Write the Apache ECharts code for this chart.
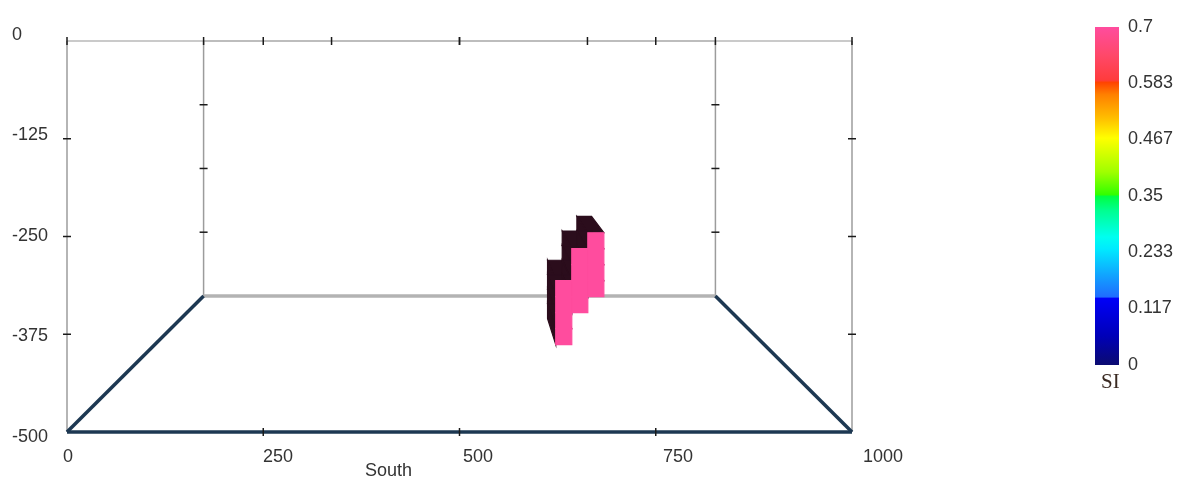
<!DOCTYPE html>
<html>
<head>
<meta charset="utf-8">
<script src="https://cdn.jsdelivr.net/npm/echarts@6/dist/echarts.min.js"></script>
<style>
  html, body { margin: 0; padding: 0; background: #ffffff; }
  #chart { width: 1183px; height: 477px; }
</style>
</head>
<body>
<div id="chart"></div>
<script>
// ---- axis ticks ----
const southTicks = [0, 250, 500, 750, 1000];
const elevationTicks = [0, -125, -250, -375, -500];
const siTicks = [0, 0.117, 0.233, 0.35, 0.467, 0.583, 0.7];

// ---- model extents (m) ----
const southRange = [0, 1000];
const depthRange = [0, 1000];
const elevationRange = [-500, 0];

// ---- inverted body: 25 m voxels (west edge along South, top elevation, SI) ----
const voxelSouth = [650, 650, 650, 650, 675, 675, 675, 675, 700, 700, 700, 700];
const voxelTop   = [-375, -400, -425, -450, -325, -350, -375, -400, -300, -325, -350, -375];
const voxelSI    = [0.7, 0.7, 0.7, 0.7, 0.7, 0.7, 0.7, 0.7, 0.7, 0.7, 0.7, 0.7];
const voxelSize = 25;
const bodyDepth = [525, 725];

// ---- SI colour scale ----
const scaleValues = [0.000, 0.060, 0.138, 0.141, 0.180, 0.240, 0.265, 0.320, 0.350, 0.352, 0.400, 0.470, 0.510, 0.560, 0.585, 0.590, 0.640, 0.700];
const scaleColors = ['#0b0b70', '#0000b8', '#0000f8', '#1f6cff', '#139cff', '#00eaff', '#00fff0', '#00ff90', '#00ff40', '#30ff00', '#a0ff00', '#ffff00', '#ffc000', '#ff8000', '#ff4400', '#ff3c3c', '#ff4868', '#ff4c9e'];

// perspective: eye level with the top face, vanishing toward South = 500
const VANISH_SOUTH = 500;
const DEPTH_SHRINK = 0.348;

function project(api, s, d, z) {
  const k = 1 - DEPTH_SHRINK * d / depthRange[1];
  return api.coord([VANISH_SOUTH + (s - VANISH_SOUTH) * k, z * k]);
}

function hexRgb(h) {
  return [parseInt(h.slice(1, 3), 16), parseInt(h.slice(3, 5), 16), parseInt(h.slice(5, 7), 16)];
}
function colourAt(v) {
  if (v <= scaleValues[0]) return scaleColors[0];
  for (let i = 1; i < scaleValues.length; i++) {
    if (v <= scaleValues[i]) {
      const t = (v - scaleValues[i - 1]) / (scaleValues[i] - scaleValues[i - 1]);
      const a = hexRgb(scaleColors[i - 1]), b = hexRgb(scaleColors[i]);
      return 'rgb(' + a.map((c, j) => Math.round(c + (b[j] - c) * t)).join(',') + ')';
    }
  }
  return scaleColors[scaleColors.length - 1];
}

// ---- box edges built from the model extents ----
const [s0, s1] = southRange, [d0, d1] = depthRange, [zb, zt] = elevationRange;
const floorEdges = [
  [s0, d0, zb, s1, d0, zb],
  [s0, d0, zb, s0, d1, zb],
  [s1, d0, zb, s1, d1, zb]
];
const backFloorEdges = [[s0, d1, zb, s1, d1, zb]];
const verticalEdges = [
  [s0, d0, zt, s0, d0, zb],
  [s1, d0, zt, s1, d0, zb],
  [s0, d1, zt, s0, d1, zb],
  [s1, d1, zt, s1, d1, zb]
];
const topEdges = [
  [s0, d0, zt, s1, d0, zt],
  [s0, d1, zt, s1, d1, zt]
];

// tick marks: [south, depth, elevation, vertical?]
const tickMarks = [];
[[s0, d0], [s1, d0], [s0, d1], [s1, d1]].forEach(([s, d]) => {
  elevationTicks.filter(z => z > zb && z < zt).forEach(z => tickMarks.push([s, d, z, 0]));
});
[d0, d1].forEach(d => southTicks.forEach(s => tickMarks.push([s, d, zt, 1])));
southTicks.filter(s => s > s0 && s < s1).forEach(s => tickMarks.push([s, d0, zb, 1]));

function edgeSeries(name, edges, stroke, width, z) {
  return {
    name: name, type: 'custom', coordinateSystem: 'cartesian2d',
    xAxisIndex: 0, yAxisIndex: 0, silent: true, clip: false, z: z,
    data: edges,
    renderItem: function (params, api) {
      const a = project(api, api.value(0), api.value(1), api.value(2));
      const b = project(api, api.value(3), api.value(4), api.value(5));
      return {
        type: 'line',
        shape: { x1: a[0], y1: a[1], x2: b[0], y2: b[1] },
        style: { stroke: stroke, lineWidth: width, lineCap: 'butt' }
      };
    }
  };
}

const voxelData = voxelSouth.map((s, i) => [s, voxelTop[i], voxelSI[i]]);

function voxelCorners(api) {
  const s = api.value(0), top = api.value(1), bot = top - voxelSize, e = s + voxelSize;
  return {
    fTL: project(api, s, bodyDepth[0], top), fTR: project(api, e, bodyDepth[0], top),
    fBL: project(api, s, bodyDepth[0], bot), fBR: project(api, e, bodyDepth[0], bot),
    bTL: project(api, s, bodyDepth[1], top), bTR: project(api, e, bodyDepth[1], top),
    bBL: project(api, s, bodyDepth[1], bot)
  };
}

const SIDE_COLOUR = '#2b0d1c';

const option = {
  animation: false,
  backgroundColor: '#ffffff',
  textStyle: { fontFamily: 'Liberation Sans, Arial, sans-serif' },
  title: [
    { text: 'South', left: 360, top: 457,
      textStyle: { fontSize: 18, fontWeight: 'normal', color: '#333333', fontFamily: 'Liberation Sans' } },
    { text: 'SI', left: 1096, top: 367,
      textStyle: { fontSize: 21, fontWeight: 'normal', color: '#3a2a22', fontFamily: 'Liberation Serif' } }
  ],
  grid: [
    { left: 67, right: 331, top: 41, bottom: 45 },
    { left: 63, right: 320, top: 35, bottom: 40 },
    { left: 1095, right: 64, top: 27, bottom: 112 }
  ],
  xAxis: [
    { gridIndex: 0, type: 'value', min: southRange[0], max: southRange[1], show: false },
    { gridIndex: 1, type: 'value', min: southRange[0], max: southRange[1],
      axisLine: { show: false }, axisTick: { show: false }, splitLine: { show: false },
      axisLabel: { customValues: southTicks, align: 'left', margin: 11, fontSize: 18, color: '#333333',
        formatter: v => String(v) } },
    { gridIndex: 2, type: 'value', min: 0, max: 1, show: false }
  ],
  yAxis: [
    { gridIndex: 0, type: 'value', min: elevationRange[0], max: elevationRange[1], show: false },
    { gridIndex: 1, type: 'value', min: elevationRange[0], max: elevationRange[1],
      axisLine: { show: false }, axisTick: { show: false }, splitLine: { show: false },
      axisLabel: { customValues: elevationTicks, align: 'left', margin: 51, fontSize: 18, color: '#333333',
        formatter: v => String(v) } },
    { gridIndex: 2, type: 'value', min: 0, max: 0.7, position: 'right',
      axisLine: { show: false }, axisTick: { show: false }, splitLine: { show: false },
      axisLabel: { customValues: siTicks, margin: 9, fontSize: 18, color: '#333333',
        formatter: v => String(v) } }
  ],
  series: [
    edgeSeries('top', topEdges, '#b9b9b9', 1.5, 1),
    edgeSeries('verticals', verticalEdges, '#9c9c9c', 1.5, 2),
    edgeSeries('backFloor', backFloorEdges, '#b3b3b3', 3.5, 2),
    edgeSeries('floor', floorEdges, '#1d3852', 3.5, 3),
    {
      name: 'ticks', type: 'custom', coordinateSystem: 'cartesian2d',
      xAxisIndex: 0, yAxisIndex: 0, silent: true, clip: false, z: 4,
      data: tickMarks,
      renderItem: function (params, api) {
        const p = project(api, api.value(0), api.value(1), api.value(2));
        const vert = api.value(3) === 1;
        return {
          type: 'line',
          shape: vert ? { x1: p[0], y1: p[1] - 4, x2: p[0], y2: p[1] + 4 }
                      : { x1: p[0] - 4, y1: p[1], x2: p[0] + 4, y2: p[1] },
          style: { stroke: '#1a1a1a', lineWidth: 1.5 }
        };
      }
    },
    {
      name: 'bodySides', type: 'custom', coordinateSystem: 'cartesian2d',
      xAxisIndex: 0, yAxisIndex: 0, silent: true, clip: false, z: 5,
      data: voxelData,
      renderItem: function (params, api) {
        const c = voxelCorners(api);
        return {
          type: 'group',
          children: [
            { type: 'polygon', shape: { points: [c.fTL, c.fTR, c.bTR, c.bTL] },
              style: { fill: SIDE_COLOUR, stroke: SIDE_COLOUR, lineWidth: 1.2 } },
            { type: 'polygon', shape: { points: [c.fTL, c.bTL, c.bBL, c.fBL] },
              style: { fill: SIDE_COLOUR, stroke: SIDE_COLOUR, lineWidth: 1.2 } }
          ]
        };
      }
    },
    {
      name: 'bodyFront', type: 'custom', coordinateSystem: 'cartesian2d',
      xAxisIndex: 0, yAxisIndex: 0, silent: true, clip: false, z: 6,
      data: voxelData,
      renderItem: function (params, api) {
        const c = voxelCorners(api);
        const col = colourAt(api.value(2));
        return {
          type: 'polygon',
          shape: { points: [c.fTL, c.fTR, c.fBR, c.fBL] },
          style: { fill: col, stroke: col, lineWidth: 1.2 }
        };
      }
    },
    {
      name: 'SI scale', type: 'custom', coordinateSystem: 'cartesian2d',
      xAxisIndex: 2, yAxisIndex: 2, silent: true, clip: false,
      data: [[0, siTicks[0], 1, siTicks[siTicks.length - 1]]],
      renderItem: function (params, api) {
        const a = api.coord([api.value(0), api.value(3)]);
        const b = api.coord([api.value(2), api.value(1)]);
        const lo = api.value(1), hi = api.value(3);
        const stops = scaleValues.map((v, i) => ({ offset: 1 - (v - lo) / (hi - lo), color: scaleColors[i] })).reverse();
        return {
          type: 'rect',
          shape: { x: a[0], y: a[1], width: b[0] - a[0], height: b[1] - a[1] },
          style: { fill: new echarts.graphic.LinearGradient(0, 0, 0, 1, stops) }
        };
      }
    }
  ]
};

const chart = echarts.init(document.getElementById('chart'), null, { renderer: 'canvas' });
chart.setOption(option);
</script>
</body>
</html>
